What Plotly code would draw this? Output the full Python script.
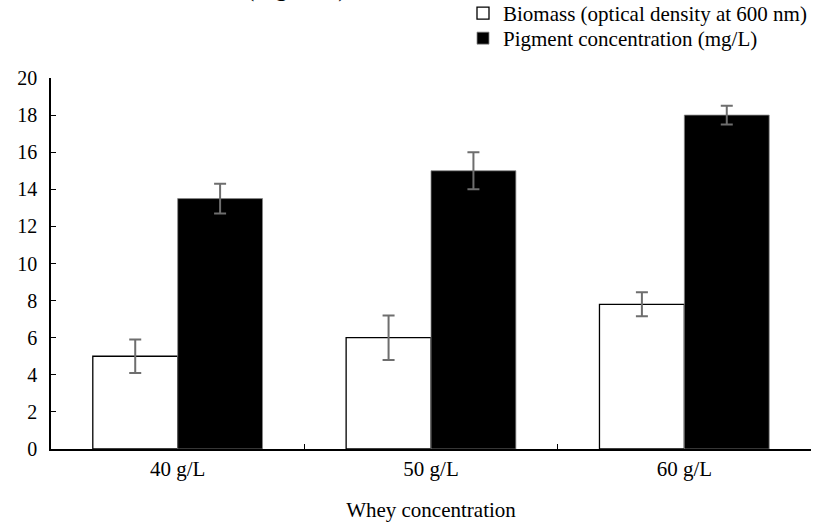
import plotly.graph_objects as go

categories = ["40 g/L", "50 g/L", "60 g/L"]
biomass = [5.0, 6.0, 7.8]
biomass_err = [0.9, 1.2, 0.65]
pigment = [13.5, 15.0, 18.0]
pigment_err = [0.8, 1.0, 0.5]
y_ticks = list(range(0, 21, 2))

FONT = "Liberation Serif, Times New Roman, serif"
ERR_COLOR = "#6e6e6e"

fig = go.Figure()
fig.add_trace(go.Bar(
    x=categories, y=biomass, name="Biomass (optical density at 600 nm)",
    marker=dict(color="white", line=dict(color="black", width=1.3)),
    error_y=dict(type="data", array=biomass_err, visible=True,
                 color=ERR_COLOR, thickness=2, width=6),
    legend="legend",
))
fig.add_trace(go.Bar(
    x=categories, y=pigment, name="Pigment concentration (mg/L)",
    marker=dict(color="black", line=dict(color="#888888", width=0.8)),
    error_y=dict(type="data", array=pigment_err, visible=True,
                 color=ERR_COLOR, thickness=2, width=6),
    legend="legend2",
))

fig.add_annotation(text="(Figure 2)", xref="paper", yref="paper",
                   x=(296 - 51) / 760, y=(449 + 12) / 371, xanchor="center", yanchor="middle",
                   showarrow=False, font=dict(family=FONT, size=25, color="black"))

legend_common = dict(xref="paper", yref="paper", xanchor="left", yanchor="top",
                     font=dict(family=FONT, size=21, color="black"),
                     itemwidth=30, bgcolor="rgba(0,0,0,0)")

fig.update_layout(
    width=815, height=524,
    margin=dict(l=51, r=4, t=78, b=75, autoexpand=False),
    paper_bgcolor="white", plot_bgcolor="white",
    barmode="group", bargap=0.33, bargroupgap=0,
    font=dict(family=FONT, size=21, color="black"),
    showlegend=True,
    legend=dict(x=(463 - 51) / 760, y=(449 + 7) / 371, **legend_common),
    legend2=dict(x=(463 - 51) / 760, y=(449 - 18) / 371, **legend_common),
    xaxis=dict(
        title=dict(text="Whey concentration", font=dict(family=FONT, size=21), standoff=22),
        showline=True, linecolor="black", linewidth=1.5,
        ticks="inside", ticklen=5, tickcolor="black", tickson="boundaries",
        showgrid=False, zeroline=False, tickfont=dict(size=21),
    ),
    yaxis=dict(
        range=[0, 20], tickvals=y_ticks, ticktext=[str(v) for v in y_ticks],
        showline=True, linecolor="black", linewidth=1.5,
        ticks="inside", ticklen=5, tickcolor="black",
        showgrid=False, zeroline=False, ticklabelstandoff=8, tickfont=dict(size=20),
    ),
)

fig.write_html("out.html")
